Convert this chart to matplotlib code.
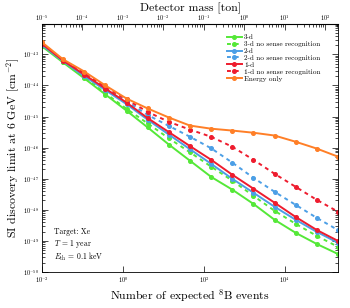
import numpy as np
import matplotlib
matplotlib.use("Agg")
import matplotlib.pyplot as plt
from matplotlib.ticker import LogLocator, NullLocator

plt.rcParams["font.family"] = "serif"
plt.rcParams["font.serif"] = ["cmr10", "DejaVu Serif"]
plt.rcParams["mathtext.fontset"] = "cm"
plt.rcParams["axes.unicode_minus"] = False
plt.rcParams["axes.formatter.use_mathtext"] = True

# Number of expected 8B events (bottom axis)
n_events = [0.01, 0.0333, 0.111, 0.370, 1.23, 4.11, 13.7, 45.6, 152, 506,
            1690, 5620, 18700, 62400, 208000]

# log10 of SI discovery limit [cm^2]
log_3d = [-42.74, -43.26, -43.77, -44.29, -44.81, -45.35, -45.90, -46.42,
          -46.94, -47.35, -47.81, -48.32, -48.74, -49.10, -49.42]
log_3d_nosense = [-42.72, -43.24, -43.74, -44.25, -44.75, -45.22, -45.70, -46.15,
                  -46.61, -47.06, -47.55, -48.03, -48.45, -48.84, -49.19]
log_2d = [-42.70, -43.22, -43.70, -44.15, -44.60, -45.10, -45.58, -46.05,
          -46.52, -47.00, -47.45, -47.90, -48.32, -48.71, -49.06]
log_2d_nosense = [-42.66, -43.20, -43.63, -44.10, -44.50, -44.95, -45.30, -45.65,
                  -46.02, -46.48, -46.97, -47.42, -47.84, -48.26, -48.65]
log_1d = [-42.66, -43.20, -43.65, -44.10, -44.55, -45.05, -45.50, -45.95,
          -46.39, -46.87, -47.32, -47.77, -48.23, -48.65, -49.00]
log_1d_nosense = [-42.64, -43.18, -43.60, -44.05, -44.45, -44.85, -45.17, -45.42,
                  -45.65, -45.97, -46.39, -46.84, -47.26, -47.68, -48.06]
log_energy = [-42.61, -43.16, -43.55, -44.00, -44.42, -44.74, -45.03, -45.29,
              -45.39, -45.45, -45.52, -45.61, -45.81, -46.03, -46.29]

# events per ton-year
events_per_ton = 1000.0

series = [
    ("3-d", log_3d, "#55e838", "-"),
    ("3-d no sense recognition", log_3d_nosense, "#55e838", (0, (2, 2))),
    ("2-d", log_2d, "#4c9fe6", "-"),
    ("2-d no sense recognition", log_2d_nosense, "#4c9fe6", (0, (2, 2))),
    ("1-d", log_1d, "#ee1c2e", "-"),
    ("1-d no sense recognition", log_1d_nosense, "#ee1c2e", (0, (2, 2))),
    ("Energy only", log_energy, "#ff7f27", "-"),
]

fig = plt.figure(figsize=(3.5, 3.08), dpi=100)
ax = fig.add_axes([0.12, 0.117, 0.846, 0.805])

for label, vals, col, ls in series:
    ax.plot(n_events, 10.0 ** np.array(vals), color=col, linestyle=ls,
            linewidth=1.4, marker="o", markersize=2.6, label=label)

ax.set_xscale("log")
ax.set_yscale("log")
ax.set_xlim(0.01, 2.1e5)
ax.set_ylim(1e-50, 9.5e-43)

ax.xaxis.set_major_locator(LogLocator(base=100.0, numticks=10))
ax.xaxis.set_minor_locator(NullLocator())
ax.yaxis.set_major_locator(LogLocator(base=10.0, numticks=20))
ax.yaxis.set_minor_locator(LogLocator(base=10.0, subs=np.arange(2, 10), numticks=20))
ax.tick_params(which="both", direction="in", right=True, labelsize=4.5, pad=2)
ax.tick_params(which="major", length=4, width=0.5)
ax.tick_params(which="minor", length=2, width=0.5)
for s in ax.spines.values():
    s.set_linewidth(0.6)

secax = ax.secondary_xaxis("top", functions=(lambda n: n / events_per_ton,
                                              lambda m: m * events_per_ton))
secax.xaxis.set_major_locator(LogLocator(base=10.0, numticks=20))
secax.xaxis.set_minor_locator(LogLocator(base=10.0, subs=np.arange(2, 10), numticks=20))
secax.tick_params(which="both", direction="in", labelsize=4.5, pad=1)
secax.tick_params(which="major", length=4, width=0.5)
secax.tick_params(which="minor", length=2, width=0.5)
secax.set_xlabel("Detector mass [ton]", fontsize=8.5, labelpad=1)

ax.set_xlabel("Number of expected $^{8}$B events", fontsize=8.5, labelpad=2)
ax.set_ylabel("SI discovery limit at 6 GeV [cm$^{-2}$]", fontsize=8.5, labelpad=1)

ax.text(0.04, 0.155, "Target: Xe", transform=ax.transAxes, fontsize=5.5)
ax.text(0.04, 0.105, "$T$ = 1 year", transform=ax.transAxes, fontsize=5.5)
ax.text(0.04, 0.05, "$E_{\\rm th}$ = 0.1 keV", transform=ax.transAxes, fontsize=5.5)

ax.legend(loc="upper right", bbox_to_anchor=(0.945, 0.965), borderaxespad=0,
          borderpad=0.2, frameon=False, fontsize=5.2, handlelength=2.1,
          labelspacing=0.12, handletextpad=0.25)

fig.savefig("out.png", dpi=100)
